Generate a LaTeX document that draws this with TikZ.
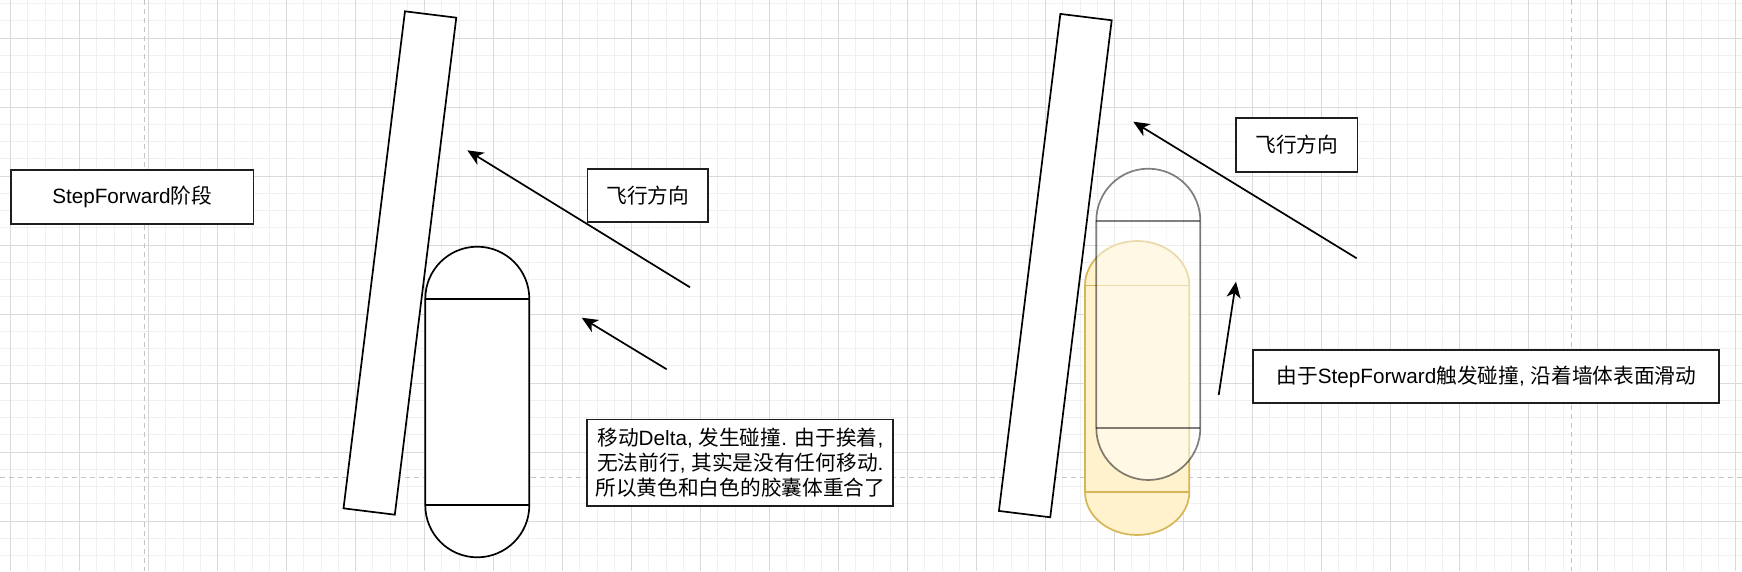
\documentclass[tikz,border=0pt]{standalone}
\usepackage{fontspec}
\setmainfont{Liberation Sans}
\newfontfamily\cjk{Noto Sans CJK SC}
\newcommand{\zh}[1]{{\cjk #1}}
\usetikzlibrary{arrows.meta}
\definecolor{minorgrid}{HTML}{F0F0F0}
\definecolor{majorgrid}{HTML}{DADADA}
\definecolor{pagebreak}{HTML}{C4C4C4}
\definecolor{boxline}{HTML}{1E1E1E}
\definecolor{capfill}{HTML}{FFF2CC}
\definecolor{capline}{HTML}{D6B656}
\begin{document}
\begin{tikzpicture}[x=1pt,y=-1pt,
  mingrid/.style={minorgrid,line width=1pt},
  majgrid/.style={majorgrid,line width=1pt},
  pbreak/.style={pagebreak,line width=1pt,dash pattern=on 5pt off 4pt},
  wall/.style={draw=black,fill=white,line width=1.7pt,inner sep=0pt,minimum width=51.7pt,minimum height=500.8pt,rotate=-7.05},
  capsule/.style={draw=black,fill=white,line width=1.7pt},
  ghost/.style={draw=black,draw opacity=0.5,fill=white,fill opacity=0.5,line width=1.7pt},
  yellowcap/.style={draw=capline,fill=capfill,line width=1.7pt},
  txtbox/.style={draw=boxline,fill=white,line width=1.7pt,inner sep=0pt,align=center,font=\fontsize{20.7pt}{25pt}\selectfont},
  arr/.style={-{Stealth[length=16pt,width=14pt,inset=4.5pt]},line width=1.7pt,black}
]
\useasboundingbox (0,0) rectangle (1742,571);
\fill[white] (0,0) rectangle (1742,571);
% grid
\foreach \k in {0,...,100} \draw[mingrid] ({10.7+17.25*\k},0) -- ({10.7+17.25*\k},571);
\foreach \k in {0,...,32} \draw[mingrid] (0,{3.5+17.25*\k}) -- (1742,{3.5+17.25*\k});
\foreach \k in {0,...,25} \draw[majgrid] ({10.7+69*\k},0) -- ({10.7+69*\k},571);
\foreach \k in {0,...,7} \draw[majgrid] (0,{38+69*\k}) -- (1742,{38+69*\k});
% page breaks
\draw[pbreak] (144.7,0) -- (144.7,571);
\draw[pbreak] (1571.7,0) -- (1571.7,571);
\draw[pbreak] (0,477.5) -- (1742,477.5);

% walls
\node[wall] (wall1) at (399.9,263) {};
\node[wall] (wall2) at (1055.3,265.6) {};

% left capsule
\draw[capsule] (425.3,505.3) -- (425.3,298.7) arc[start angle=180,end angle=360,radius=52] -- (529.3,505.3) arc[start angle=0,end angle=180,radius=52] -- cycle;
\draw[capsule] (425.3,298.7) -- (529.3,298.7);
\draw[capsule] (425.3,505.3) -- (529.3,505.3);

% right yellow capsule
\draw[yellowcap] (1085,492) -- (1085,285.5) arc[start angle=180,end angle=360,x radius=52.15,y radius=44.5] -- (1189.3,492) arc[start angle=0,end angle=180,x radius=52.15,y radius=43] -- cycle;
\draw[yellowcap] (1085,285.5) -- (1189.3,285.5);
\draw[yellowcap] (1085,492) -- (1189.3,492);

% right ghost capsule
\draw[ghost] (1096.3,428) -- (1096.3,220.7) arc[start angle=180,end angle=360,radius=52] -- (1200.3,428) arc[start angle=0,end angle=180,radius=52] -- cycle;
\draw[black,opacity=0.5,line width=1.7pt] (1096.3,220.7) -- (1200.3,220.7);
\draw[black,opacity=0.5,line width=1.7pt] (1096.3,428) -- (1200.3,428);

% text boxes
\node[txtbox,minimum width=242.3pt,minimum height=53.4pt] (stage) at (132.2,197) {StepForward\zh{阶段}};
\node[txtbox,minimum width=120.7pt,minimum height=53pt] (dir1) at (647.7,195.5) {\zh{飞行方向}};
\node[txtbox,minimum width=306pt,minimum height=86.7pt] (note1) at (740.3,462.7) {\zh{移动}Delta, \zh{发生碰撞}. \zh{由于挨着},\\\zh{无法前行}, \zh{其实是没有任何移动}.\\\zh{所以黄色和白色的胶囊体重合了}};
\node[txtbox,minimum width=121.3pt,minimum height=54.3pt] (dir2) at (1296.7,144.9) {\zh{飞行方向}};
\node[txtbox,minimum width=466pt,minimum height=53.3pt] (note2) at (1486.3,376.4) {\zh{由于}StepForward\zh{触发碰撞}, \zh{沿着墙体表面滑动}};

% arrows
\coordinate (a1s) at (690,287.3);
\coordinate (a1e) at (467.3,150.3);
\coordinate (a2s) at (666.7,369.3);
\coordinate (a2e) at (581.7,317.7);
\coordinate (a3s) at (1356.7,258.3);
\coordinate (a3e) at (1133.3,121.7);
\coordinate (a4s) at (1218.7,395);
\coordinate (a4e) at (1236,281.7);
\draw[arr] (a1s) -- (a1e);
\draw[arr] (a2s) -- (a2e);
\draw[arr] (a3s) -- (a3e);
\draw[arr] (a4s) -- (a4e);
\end{tikzpicture}
\end{document}
